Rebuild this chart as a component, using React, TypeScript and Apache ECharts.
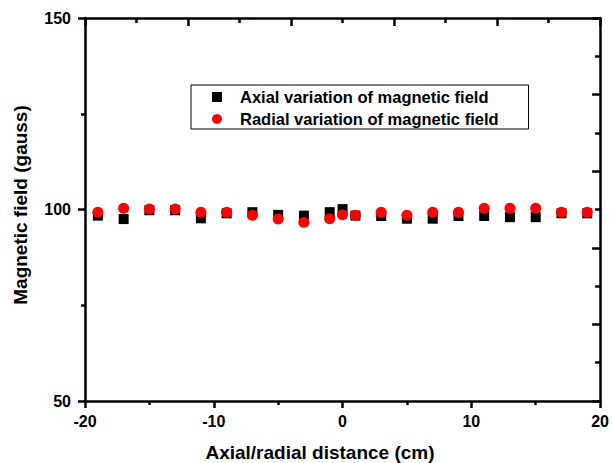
import React, { useEffect, useRef } from "react";
import * as echarts from "echarts";

const distances = [-19, -17, -15, -13, -11, -9, -7, -5, -3, -1, 0, 1, 3, 5, 7, 9, 11, 13, 15, 17, 19];
const axialField = [98.4, 97.5, 99.8, 99.8, 97.7, 99.0, 99.3, 98.6, 98.4, 99.3, 100.1, 98.4, 98.3, 97.6, 97.6, 98.3, 98.3, 98.0, 98.0, 99.0, 99.0];
const radialField = [99.3, 100.3, 100.1, 100.1, 99.3, 99.3, 98.5, 97.5, 96.7, 97.6, 98.6, 98.5, 99.3, 98.5, 99.3, 99.3, 100.3, 100.3, 100.3, 99.3, 99.3];
const seriesNames = ["Axial variation of magnetic field", "Radial variation of magnetic field"];
const xTitle = "Axial/radial distance (cm)";
const yTitle = "Magnetic field (gauss)";

const FONT = "'Liberation Sans', Arial, sans-serif";
const LW = 2.5;

export default function App() {
  const ref = useRef<HTMLDivElement>(null);
  useEffect(() => {
    if (!ref.current) return;
    const chart = echarts.init(ref.current, null, { renderer: "svg" });
    const line = { lineStyle: { color: "#000", width: LW } };
    const labelStyle = { color: "#000", fontFamily: FONT, fontWeight: "bold" as const, fontSize: 16 };
    chart.setOption({
      animation: false,
      backgroundColor: "#fff",
      grid: { left: 85, right: 8, top: 18, bottom: 62 },
      legend: {
        orient: "vertical",
        left: 191,
        top: 85,
        padding: [3, 30, 1, 21],
        itemGap: 4,
        itemWidth: 10,
        itemHeight: 10,
        borderColor: "#000",
        borderWidth: 1,
        selectedMode: false,
        data: [
          { name: seriesNames[0], icon: "rect", itemStyle: { color: "#000", opacity: 1 } },
          { name: seriesNames[1], icon: "circle", itemStyle: { color: "#ff0000", opacity: 1 } },
        ],
        textStyle: { ...labelStyle, fontSize: 16.5, lineHeight: 18, padding: [0, 0, 0, 13] },
      },
      xAxis: [
        {
          type: "value",
          position: "bottom",
          min: -20,
          max: 20,
          interval: 10,
          axisLine: { show: true, onZero: false, ...line },
          axisTick: { show: true, inside: false, length: 7, ...line },
          minorTick: { show: true, splitNumber: 2, length: 4, ...line },
          axisLabel: { ...labelStyle, margin: 12 },
          splitLine: { show: false },
        },
        {
          type: "value",
          position: "top",
          min: 0,
          max: 40,
          interval: 8,
          axisLine: { show: true, onZero: false, ...line },
          axisTick: { show: true, inside: true, length: 8, ...line },
          minorTick: { show: true, splitNumber: 2, length: 5, ...line },
          axisLabel: { show: false },
          splitLine: { show: false },
        },
      ],
      yAxis: [
        {
          type: "value",
          position: "left",
          min: 50,
          max: 150,
          interval: 50,
          axisLine: { show: true, onZero: false, ...line },
          axisTick: { show: true, inside: false, length: 7, ...line },
          minorTick: { show: true, splitNumber: 2, length: 4, ...line },
          axisLabel: { ...labelStyle, margin: 14 },
          splitLine: { show: false },
        },
        {
          type: "value",
          position: "right",
          min: 0,
          max: 100,
          interval: 20,
          axisLine: { show: true, onZero: false, ...line },
          axisTick: { show: true, inside: true, length: 8, ...line },
          minorTick: { show: true, splitNumber: 2, length: 5, ...line },
          axisLabel: { show: false },
          splitLine: { show: false },
        },
      ],
      series: [
        {
          name: seriesNames[0],
          type: "scatter",
          xAxisIndex: 0,
          yAxisIndex: 0,
          symbol: "rect",
          symbolSize: 10,
          itemStyle: { color: "#000", opacity: 1 },
          emphasis: { disabled: true },
          data: distances.map((d, i) => [d, axialField[i]]),
        },
        {
          name: seriesNames[1],
          type: "scatter",
          xAxisIndex: 0,
          yAxisIndex: 0,
          symbol: "circle",
          symbolSize: 11,
          itemStyle: { color: "#ff0000", opacity: 1 },
          emphasis: { disabled: true },
          data: distances.map((d, i) => [d, radialField[i]]),
        },
      ],
      graphic: [
        {
          type: "text",
          x: 320,
          y: 452,
          style: {
            text: xTitle,
            fill: "#000",
            font: `bold 19px ${FONT}`,
            align: "center",
            verticalAlign: "middle",
          },
        },
        {
          type: "text",
          x: 20,
          y: 205,
          rotation: Math.PI / 2,
          style: {
            text: yTitle,
            fill: "#000",
            font: `bold 19px ${FONT}`,
            align: "center",
            verticalAlign: "middle",
          },
        },
      ],
    });
    return () => chart.dispose();
  }, []);
  return (
    <div
      ref={ref}
      style={{ position: "fixed", left: 0, top: 0, width: 612, height: 463, background: "#fff" }}
    />
  );
}
